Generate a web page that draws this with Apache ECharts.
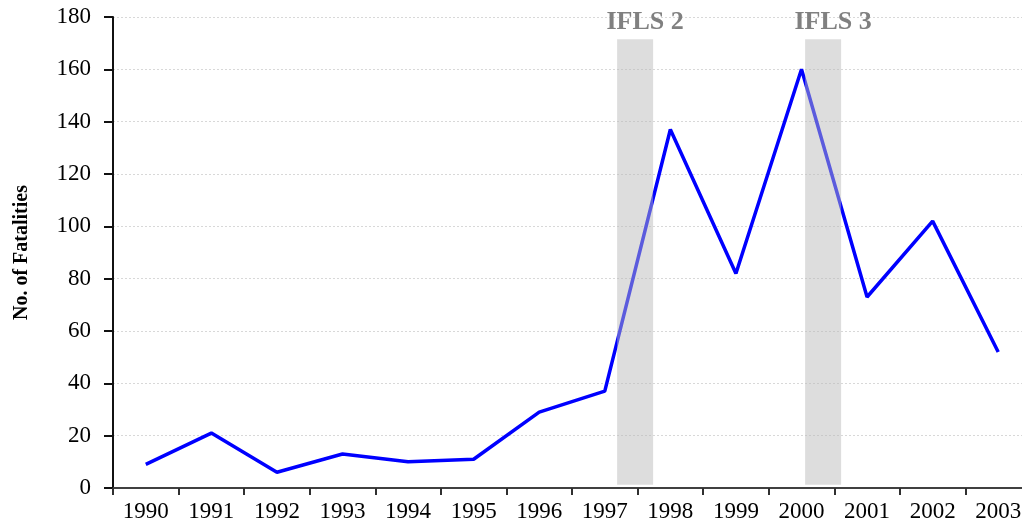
<!DOCTYPE html>
<html><head><meta charset="utf-8">
<script src="https://cdn.jsdelivr.net/npm/echarts@6/dist/echarts.min.js"></script>
<style>html,body{margin:0;padding:0;background:#fff}#c{width:1022px;height:525px}</style>
</head><body><div id="c"></div>
<script>
const years = ['1990','1991','1992','1993','1994','1995','1996','1997','1998','1999','2000','2001','2002','2003'];
const fatalities = [9, 21, 6, 13, 10, 11, 29, 37, 137, 82, 160, 73, 102, 52];
const yTicks = [0, 20, 40, 60, 80, 100, 120, 140, 160, 180];
// survey bands (category-index positions) and their labels
const bandStart = [7.188, 10.055];
const bandEnd = [7.737, 10.604];
const bandLabels = ['IFLS 2', 'IFLS 3'];
const bandBottom = 1.2, bandTop = 171.5, labelY = 178.1;

const serif = '"Liberation Serif", "Times New Roman", serif';
const bandData = bandStart.map((s, i) => [s, bandEnd[i], bandBottom, bandTop, bandLabels[i]]);

const chart = echarts.init(document.getElementById('c'));
chart.setOption({
  animation: false,
  backgroundColor: '#fff',
  grid: { left: 113, width: 918, top: 17, bottom: 37, containLabel: false, outerBoundsMode: 'none' },
  xAxis: [{
    type: 'category', data: years, boundaryGap: true,
    axisLine: { onZero: false, lineStyle: { color: '#404040', width: 2 } },
    axisTick: { show: true, length: 7, lineStyle: { color: '#303030', width: 2 } },
    axisLabel: { color: '#000', fontFamily: serif, fontSize: 23, margin: 12, interval: 0 },
    splitLine: { show: false }
  }, {
    type: 'value', min: -0.5, max: 13.5, show: false
  }],
  yAxis: {
    type: 'value', min: 0, max: yTicks[yTicks.length - 1], interval: 20,
    name: 'No. of Fatalities', nameLocation: 'middle', nameGap: 81,
    nameTextStyle: { fontFamily: serif, fontSize: 20, fontWeight: 'bold', color: '#000' },
    axisLine: { show: true, onZero: false, lineStyle: { color: '#111', width: 2 } },
    axisTick: { show: true, length: 9, lineStyle: { color: '#111', width: 2 } },
    axisLabel: { color: '#000', fontFamily: serif, fontSize: 23, margin: 22 },
    splitLine: { show: true, lineStyle: { color: '#d8d8d8', width: 1, type: [2, 2] } }
  },
  series: [{
    type: 'line', data: fatalities, xAxisIndex: 0, symbol: 'none', z: 2,
    lineStyle: { color: '#0000ff', width: 3.5 }
  }, {
    type: 'custom', xAxisIndex: 1, z: 5, data: bandData,
    renderItem: function (params, api) {
      const p0 = api.coord([api.value(0), api.value(3)]);
      const p1 = api.coord([api.value(1), api.value(2)]);
      const lc = api.coord([(api.value(0) + api.value(1)) / 2, labelY]);
      return {
        type: 'group',
        children: [{
          type: 'rect',
          shape: { x: p0[0], y: p0[1], width: p1[0] - p0[0], height: p1[1] - p0[1] },
          style: { fill: 'rgba(185,185,185,0.49)' }
        }, {
          type: 'text',
          x: lc[0] + 10, y: lc[1],
          style: { text: bandData[params.dataIndex][4], fill: '#808080', font: 'bold 26px ' + serif, align: 'center', verticalAlign: 'middle' }
        }]
      };
    }
  }]
});
</script></body></html>
